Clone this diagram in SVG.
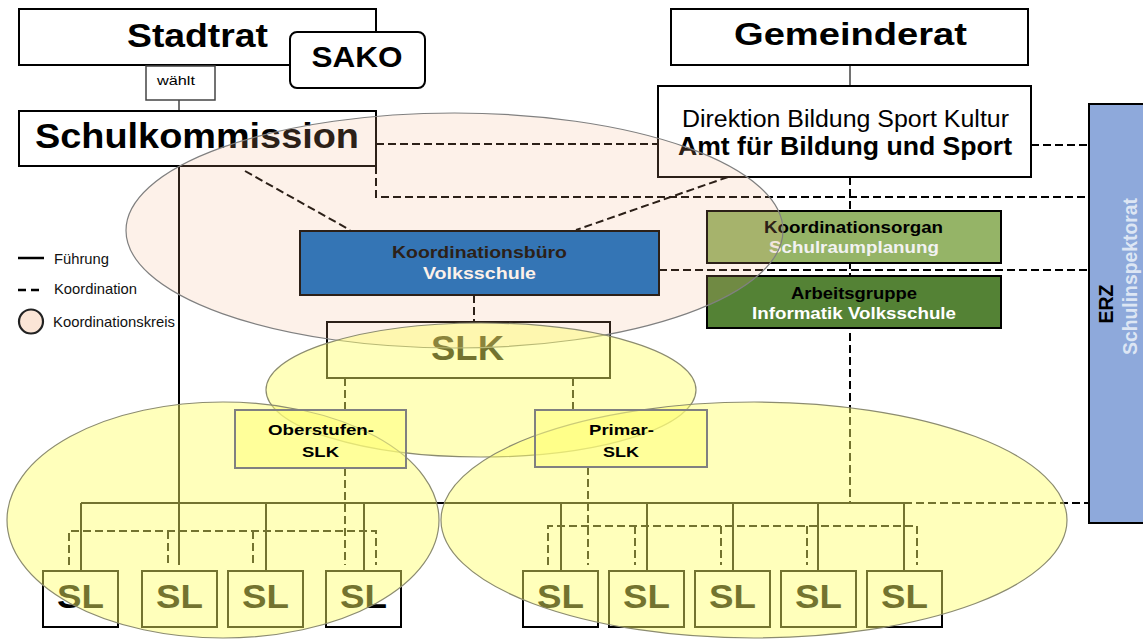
<svg xmlns="http://www.w3.org/2000/svg" width="1143" height="639" viewBox="0 0 1143 639">
<style>
.box{fill:#fff;stroke:#000;stroke-width:2}
.solid{stroke:#000;stroke-width:2;fill:none}
.thin{stroke:#444;stroke-width:1.5;fill:none}
.dash{stroke:#000;stroke-width:2;stroke-dasharray:8 4;fill:none}
.t{font-family:"Liberation Sans",Arial,sans-serif;font-weight:bold;text-anchor:middle;fill:#000}
.n{font-weight:normal}
.w{fill:#fff}
.lg{font-family:"Liberation Sans",Arial,sans-serif;font-size:14.5px;fill:#111}
.pink{fill:#F4B183;fill-opacity:0.18;stroke:#808080;stroke-width:1.2}
.yel{fill:#FFFF68;fill-opacity:0.45;stroke:#8c8c70;stroke-width:1.2}
.sub{fill:#FFFF80;fill-opacity:0.55;stroke:#808080;stroke-width:2}
.sl{font-size:33px}
</style>

<g id="connectors">
  <path class="thin" d="M179 100 V111 M850 65 V86"/>
  <path class="solid" d="M179 166 V565 M81 503 H904 M81 503 V571 M266 503 V571 M364 503 V571 M561 503 V571 M647 503 V571 M733 503 V571 M818 503 V571 M904 503 V571"/>
  <path class="dash" d="M376 144 H658 M1031 145 H1089 M376 166 V197 H1089 M850 177 V503 M904 503 H1089 M245 171 L350 230 M728 177 L576 230 M659 270 H1089 M474 295 V322 M345 378 V410 M573 378 V410 M345 468 V565 M588 467 V565"/>
  <path class="dash" d="M69 565 V531 H376 V565 M168 531 V565 M253 531 V565 M548 565 V526 H917 V565 M635 526 V565 M721 526 V565 M807 526 V565"/>
</g>

<g id="stadtrat"><rect class="box" x="19" y="9" width="357" height="56"/><text class="t" x="197.5" y="47" font-size="33" textLength="141" lengthAdjust="spacingAndGlyphs">Stadtrat</text></g>
<g id="sako"><rect class="box" x="290" y="32" width="135" height="56" rx="7"/><text class="t" x="357" y="67" font-size="30" textLength="91" lengthAdjust="spacingAndGlyphs">SAKO</text></g>
<g id="waehlt"><rect x="146" y="66" width="69" height="34" fill="#fff" stroke="#444" stroke-width="1.5"/><text class="t n" x="176" y="85" font-size="13.5" textLength="38" lengthAdjust="spacingAndGlyphs">wählt</text></g>
<g id="schulkommission"><rect class="box" x="19" y="111" width="357" height="55"/><text class="t" x="197" y="148" font-size="35" textLength="324" lengthAdjust="spacingAndGlyphs">Schulkommission</text></g>
<g id="gemeinderat"><rect class="box" x="671" y="9" width="357" height="56"/><text class="t" x="850.5" y="45" font-size="32" textLength="233" lengthAdjust="spacingAndGlyphs">Gemeinderat</text></g>
<g id="direktion"><rect class="box" x="658" y="86" width="373" height="91"/><text class="t n" x="845.5" y="127" font-size="23" textLength="327" lengthAdjust="spacingAndGlyphs">Direktion Bildung Sport Kultur</text><text class="t" x="845" y="155" font-size="25" textLength="334" lengthAdjust="spacingAndGlyphs">Amt für Bildung und Sport</text></g>
<g id="koordinationsbuero"><rect x="300" y="231" width="359" height="64" fill="#0A68C0" stroke="#000" stroke-width="2"/><text class="t" x="479.5" y="258" font-size="16.5" textLength="175" lengthAdjust="spacingAndGlyphs">Koordinationsbüro</text><text class="t w" x="479.5" y="279" font-size="16.5" textLength="113" lengthAdjust="spacingAndGlyphs">Volksschule</text></g>
<g id="koordinationsorgan"><rect x="707" y="211" width="294" height="52" fill="#95B467" stroke="#000" stroke-width="2"/><text class="t" x="853.5" y="233" font-size="16.5" textLength="179" lengthAdjust="spacingAndGlyphs">Koordinationsorgan</text><text class="t" x="854" y="253" font-size="16.5" style="fill:#F2F2F2" textLength="170" lengthAdjust="spacingAndGlyphs">Schulraumplanung</text></g>
<g id="arbeitsgruppe"><rect x="707" y="276" width="294" height="52" fill="#548235" stroke="#000" stroke-width="2"/><text class="t" x="854" y="299" font-size="16.5" textLength="126" lengthAdjust="spacingAndGlyphs">Arbeitsgruppe</text><text class="t w" x="854" y="319" font-size="16.5" textLength="204" lengthAdjust="spacingAndGlyphs">Informatik Volksschule</text></g>
<g id="erz"><rect x="1089" y="104" width="70" height="419" fill="#8EA9DB" stroke="#000" stroke-width="2"/><text class="t" transform="translate(1113,304) rotate(-90)" x="0" y="0" font-size="20" textLength="39" lengthAdjust="spacingAndGlyphs">ERZ</text><text class="t" transform="translate(1137,276.5) rotate(-90)" x="0" y="0" font-size="19.5" style="fill:#DDE6F4" textLength="157" lengthAdjust="spacingAndGlyphs">Schulinspektorat</text></g>
<g id="slk"><rect class="box" x="327" y="322" width="283" height="56"/><text class="t" x="467.5" y="360" font-size="35" textLength="73" lengthAdjust="spacingAndGlyphs">SLK</text></g>
<g id="sl1"><rect class="box" x="43" y="571" width="75" height="56"/><text class="t sl" x="80.5" y="608" textLength="47" lengthAdjust="spacingAndGlyphs">SL</text></g>
<g id="sl2"><rect class="box" x="142" y="571" width="75" height="56"/><text class="t sl" x="179.5" y="608" textLength="47" lengthAdjust="spacingAndGlyphs">SL</text></g>
<g id="sl3"><rect class="box" x="228" y="571" width="75" height="56"/><text class="t sl" x="265.5" y="608" textLength="47" lengthAdjust="spacingAndGlyphs">SL</text></g>
<g id="sl4"><rect class="box" x="326" y="571" width="75" height="56"/><text class="t sl" x="363.5" y="608" textLength="47" lengthAdjust="spacingAndGlyphs">SL</text></g>
<g id="sl5"><rect class="box" x="523" y="571" width="75" height="56"/><text class="t sl" x="560.5" y="608" textLength="47" lengthAdjust="spacingAndGlyphs">SL</text></g>
<g id="sl6"><rect class="box" x="609" y="571" width="75" height="56"/><text class="t sl" x="646.5" y="608" textLength="47" lengthAdjust="spacingAndGlyphs">SL</text></g>
<g id="sl7"><rect class="box" x="695" y="571" width="75" height="56"/><text class="t sl" x="732.5" y="608" textLength="47" lengthAdjust="spacingAndGlyphs">SL</text></g>
<g id="sl8"><rect class="box" x="781" y="571" width="75" height="56"/><text class="t sl" x="818.5" y="608" textLength="47" lengthAdjust="spacingAndGlyphs">SL</text></g>
<g id="sl9"><rect class="box" x="867" y="571" width="75" height="56"/><text class="t sl" x="904.5" y="608" textLength="47" lengthAdjust="spacingAndGlyphs">SL</text></g>

<g id="legende">
  <line x1="18" y1="258" x2="44" y2="258" stroke="#000" stroke-width="2.5"/>
  <text class="lg" x="54" y="264" textLength="55" lengthAdjust="spacingAndGlyphs">Führung</text>
  <line x1="18" y1="290" x2="44" y2="290" stroke="#000" stroke-width="2.5" stroke-dasharray="8 5"/>
  <text class="lg" x="54" y="294" textLength="83" lengthAdjust="spacingAndGlyphs">Koordination</text>
  <ellipse cx="31" cy="321.5" rx="12" ry="12" fill="#FBE5D6" stroke="#222" stroke-width="2.2"/>
  <text class="lg" x="53" y="327" textLength="122" lengthAdjust="spacingAndGlyphs">Koordinationskreis</text>
</g>

<g id="kreise">
  <ellipse class="pink" cx="454.5" cy="230.5" rx="328.5" ry="117.5"/>
  <ellipse class="yel" cx="481" cy="390" rx="215" ry="67"/>
  <ellipse class="yel" cx="223" cy="520" rx="216" ry="118"/>
  <ellipse class="yel" cx="754" cy="520" rx="313" ry="118"/>
</g>

<g id="oberstufen-slk"><rect class="sub" x="235" y="410" width="171" height="58"/><text class="t" x="321" y="435" font-size="15.5" textLength="106" lengthAdjust="spacingAndGlyphs">Oberstufen-</text><text class="t" x="320.5" y="457" font-size="15.5" textLength="37" lengthAdjust="spacingAndGlyphs">SLK</text></g>
<g id="primar-slk"><rect class="sub" x="535" y="410" width="172" height="57"/><text class="t" x="621.5" y="435" font-size="15.5" textLength="65" lengthAdjust="spacingAndGlyphs">Primar-</text><text class="t" x="621" y="457" font-size="15.5" textLength="36" lengthAdjust="spacingAndGlyphs">SLK</text></g>
</svg>
